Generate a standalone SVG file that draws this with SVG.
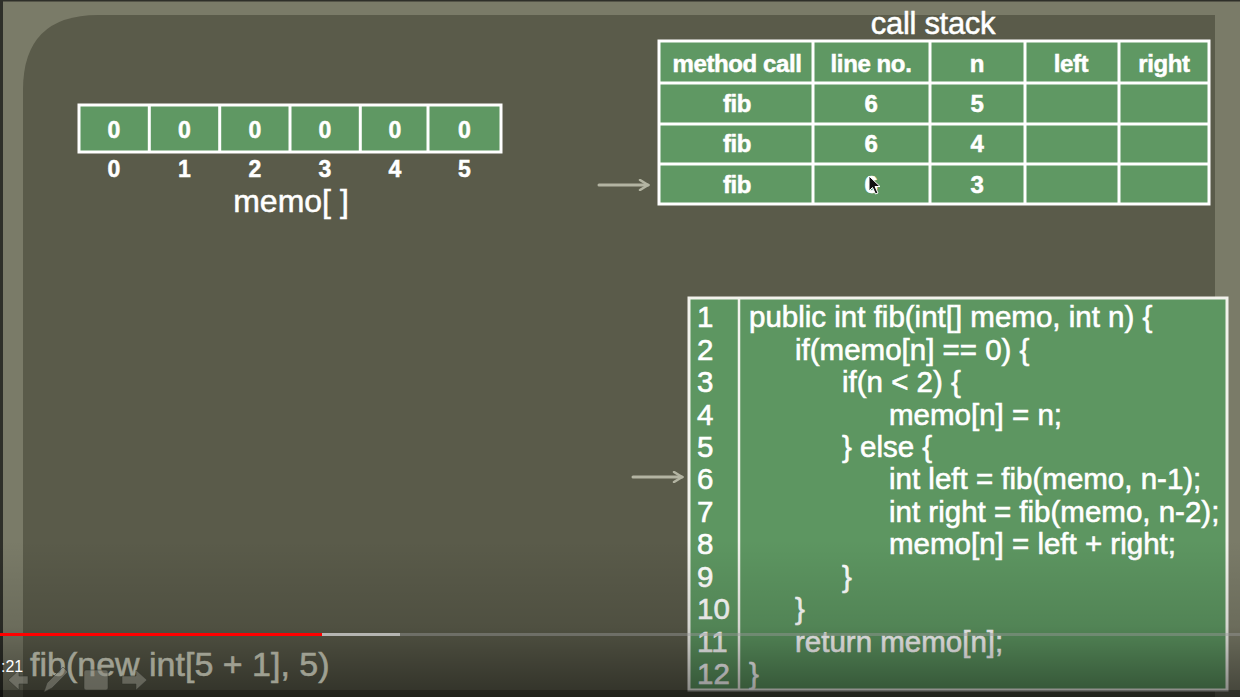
<svg xmlns="http://www.w3.org/2000/svg" width="1240" height="697" viewBox="0 0 1240 697">
<defs>
<style>
.t{font-family:"Liberation Sans",Arial,sans-serif;fill:#ffffff;stroke:#ffffff;stroke-width:0.5}
.b{font-weight:bold}
.cell{fill:#5f9863;stroke:#ffffff;stroke-width:3}
.code{font-size:29.5px;stroke-width:0.6}
.arr{stroke:#b3b4a2;stroke-width:3;fill:none;stroke-linecap:round}
</style>
<linearGradient id="shade" x1="0" y1="0" x2="0" y2="1">
<stop offset="0" stop-color="#000" stop-opacity="0"/>
<stop offset="0.55" stop-color="#000" stop-opacity="0.12"/>
<stop offset="1" stop-color="#000" stop-opacity="0.45"/>
</linearGradient>
<marker id="ah" viewBox="0 0 12 12" refX="10" refY="6" markerWidth="12" markerHeight="12" markerUnits="userSpaceOnUse" orient="auto">
<path d="M2,1 L10,6 L2,11" fill="none" stroke="#b3b4a2" stroke-width="2.5" stroke-linecap="round"/>
</marker>
</defs>
<rect x="0" y="0" width="1240" height="697" fill="#7a7b68"/>
<rect x="0" y="0" width="1240" height="1.5" fill="#2e2f29"/>
<rect x="0" y="0" width="3" height="697" fill="#2e2f29"/>
<path d="M23,90 Q23,15 98,15 L1215,15 L1215,697 L23,697 Z" fill="#5a5b4a"/>

<g id="memo">
<rect class="cell" x="79" y="105" width="422" height="47"/>
<line x1="149.3" y1="105" x2="149.3" y2="152" stroke="#fff" stroke-width="3"/>
<line x1="219.7" y1="105" x2="219.7" y2="152" stroke="#fff" stroke-width="3"/>
<line x1="290" y1="105" x2="290" y2="152" stroke="#fff" stroke-width="3"/>
<line x1="360.3" y1="105" x2="360.3" y2="152" stroke="#fff" stroke-width="3"/>
<line x1="428" y1="105" x2="428" y2="152" stroke="#fff" stroke-width="3"/>
<g class="t b" font-size="23" text-anchor="middle">
<text x="114" y="138">0</text><text x="184.5" y="138">0</text><text x="255" y="138">0</text><text x="325" y="138">0</text><text x="395" y="138">0</text><text x="464.5" y="138">0</text>
<text x="114" y="177">0</text><text x="184.5" y="177">1</text><text x="255" y="177">2</text><text x="325" y="177">3</text><text x="395" y="177">4</text><text x="464.5" y="177">5</text>
</g>
<text class="t" x="291" y="212" font-size="32" text-anchor="middle">memo[ ]</text>
</g>

<g id="callstack">
<text class="t" x="933" y="34" font-size="31" text-anchor="middle" letter-spacing="-0.3">call stack</text>
<rect class="cell" x="659" y="41" width="550" height="163"/>
<g stroke="#fff" stroke-width="3">
<line x1="659" y1="83" x2="1209" y2="83"/>
<line x1="659" y1="124" x2="1209" y2="124"/>
<line x1="659" y1="164" x2="1209" y2="164"/>
<line x1="813" y1="41" x2="813" y2="204"/>
<line x1="930" y1="41" x2="930" y2="204"/>
<line x1="1025" y1="41" x2="1025" y2="204"/>
<line x1="1119" y1="41" x2="1119" y2="204"/>
</g>
<g class="t b" font-size="24" text-anchor="middle" letter-spacing="-0.4">
<text x="737" y="72">method call</text><text x="871" y="72">line no.</text><text x="977" y="72">n</text><text x="1071" y="72">left</text><text x="1164" y="72">right</text>
<text x="737" y="112">fib</text><text x="871" y="112">6</text><text x="977" y="112">5</text>
<text x="737" y="152">fib</text><text x="871" y="152">6</text><text x="977" y="152">4</text>
<text x="737" y="193">fib</text><text x="871" y="193">6</text><text x="977" y="193">3</text>
</g>
<path d="M869,176 L869,191 L872.5,187.5 L875.5,194 L878,193 L875,186.5 L880,186.5 Z" fill="#111" stroke="#fff" stroke-width="1"/>
</g>

<g id="code">
<rect x="689" y="298" width="538" height="392" fill="#5d9661" stroke="#f2f2ec" stroke-width="3"/>
<line x1="739" y1="298" x2="739" y2="690" stroke="#f2f2ec" stroke-width="2.5"/>
<g class="t code">
<text x="697" y="327">1</text>
<text x="697" y="359.5">2</text>
<text x="697" y="392">3</text>
<text x="697" y="424.5">4</text>
<text x="697" y="457">5</text>
<text x="697" y="489">6</text>
<text x="697" y="521.5">7</text>
<text x="697" y="554">8</text>
<text x="697" y="586.5">9</text>
<text x="697" y="619">10</text>
<text x="697" y="651.5">11</text>
<text x="697" y="684">12</text>
<text x="749" y="327">public int fib(int[] memo, int n) {</text>
<text x="795" y="359.5">if(memo[n] == 0) {</text>
<text x="842" y="392">if(n &lt; 2) {</text>
<text x="889" y="424.5">memo[n] = n;</text>
<text x="842" y="457">} else {</text>
<text x="889" y="489">int left = fib(memo, n-1);</text>
<text x="889" y="521.5">int right = fib(memo, n-2);</text>
<text x="889" y="554">memo[n] = left + right;</text>
<text x="842" y="586.5">}</text>
<text x="795" y="619">}</text>
<text x="795" y="651.5">return memo[n];</text>
<text x="749" y="684">}</text>
</g>
</g>

<g id="connectors">
<line class="arr" x1="599" y1="185" x2="648" y2="185" marker-end="url(#ah)"/>
<line class="arr" x1="633" y1="477" x2="682" y2="477" marker-end="url(#ah)"/>
</g>

<rect x="0" y="540" width="1240" height="157" fill="url(#shade)"/>
<rect x="0" y="690" width="1240" height="7" fill="#000" fill-opacity="0.3"/>

<g id="player">
<rect x="0" y="633" width="1240" height="3" fill="#9a9a9a" fill-opacity="0.45"/>
<rect x="0" y="633" width="400" height="3" fill="#b5b5b2"/>
<rect x="0" y="633" width="322" height="3" fill="#ff0000"/>
<text x="30" y="676" font-family="'Liberation Sans',Arial,sans-serif" font-size="34" fill="#9fa092" stroke="#9fa092" stroke-width="0.6">fib(new int[5 + 1], 5)</text>
<g fill="#8a8b80" fill-opacity="0.55" stroke="#2e2f29" stroke-opacity="0.5" stroke-width="1">
<path d="M8,680 L19,670 L19,676 L28,676 L28,684 L19,684 L19,690 Z"/>
<path d="M44,692 L47,683 L63,667 L68,672 L52,688 Z"/>
<rect x="84" y="670" width="24" height="20" rx="2"/>
<path d="M147,680 L136,670 L136,676 L122,676 L122,684 L136,684 L136,690 Z"/>
</g>
<text x="1" y="672" font-family="'Liberation Sans',Arial,sans-serif" font-size="16" fill="#ffffff">:21</text>
</g>
</svg>
